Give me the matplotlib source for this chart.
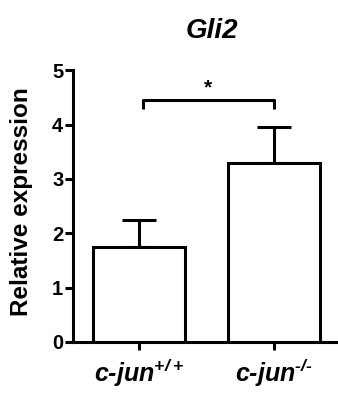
import matplotlib
matplotlib.use("Agg")
import matplotlib.pyplot as plt

plt.rcParams['font.family'] = ['Liberation Sans', 'DejaVu Sans']
plt.rcParams['mathtext.fontset'] = 'custom'
plt.rcParams['mathtext.rm'] = 'Liberation Sans:bold:italic'
plt.rcParams['mathtext.it'] = 'Liberation Sans:bold:italic'
plt.rcParams['mathtext.default'] = 'rm'

# Gli2 expression by genotype
groups = ["c-jun$^{+/+}$", "c-jun$^{\u2010/\u2010}$"]
means = [1.75, 3.29]
sems = [0.49, 0.67]
sig_label = "*"

fig = plt.figure(figsize=(3.38, 3.94), dpi=100)
ax = fig.add_axes([0.216, 0.132, 0.784, 0.690])

x = list(range(len(groups)))
lw = 2.2
ax.bar(x, means, width=0.68, color="white", edgecolor="black", linewidth=lw, zorder=2)
ax.errorbar(x, means, yerr=[[0, 0], sems], fmt="none", ecolor="black",
            elinewidth=lw, capsize=12, capthick=lw, zorder=1)

# significance bracket
yb = 4.45
ax.plot([x[0] + 0.03, x[0] + 0.03, x[1], x[1]],
        [yb - 0.17, yb, yb, yb - 0.17], color="black", lw=lw,
        solid_capstyle="butt", clip_on=False)
ax.text((x[0] + x[1]) / 2 + 0.01, yb + 0.05, sig_label, ha="center", va="bottom",
        fontsize=15, fontweight="bold")

ax.set_xlim(-0.49, 1.47)
ax.set_ylim(0, 5)
ax.set_yticks([0, 1, 2, 3, 4, 5])
ax.set_xticks(x)
ax.set_xticklabels(groups, fontsize=18, fontweight="bold", fontstyle="italic")
ax.tick_params(axis="y", labelsize=14.5, width=lw, length=6, pad=1)
ax.tick_params(axis="x", width=lw, length=6, pad=5)
for t in ax.get_yticklabels():
    t.set_fontweight("bold")

for s in ["top", "right"]:
    ax.spines[s].set_visible(False)
for s in ["left", "bottom"]:
    ax.spines[s].set_linewidth(lw)

ax.set_ylabel("Relative expression", fontsize=17.5, fontweight="bold")
ax.yaxis.set_label_coords(-0.15, 0.518)
fig.text(0.627, 0.921, "Gli2", ha="center", va="center", fontsize=20,
         fontweight="bold", fontstyle="italic")

fig.savefig("out.png", dpi=100)
